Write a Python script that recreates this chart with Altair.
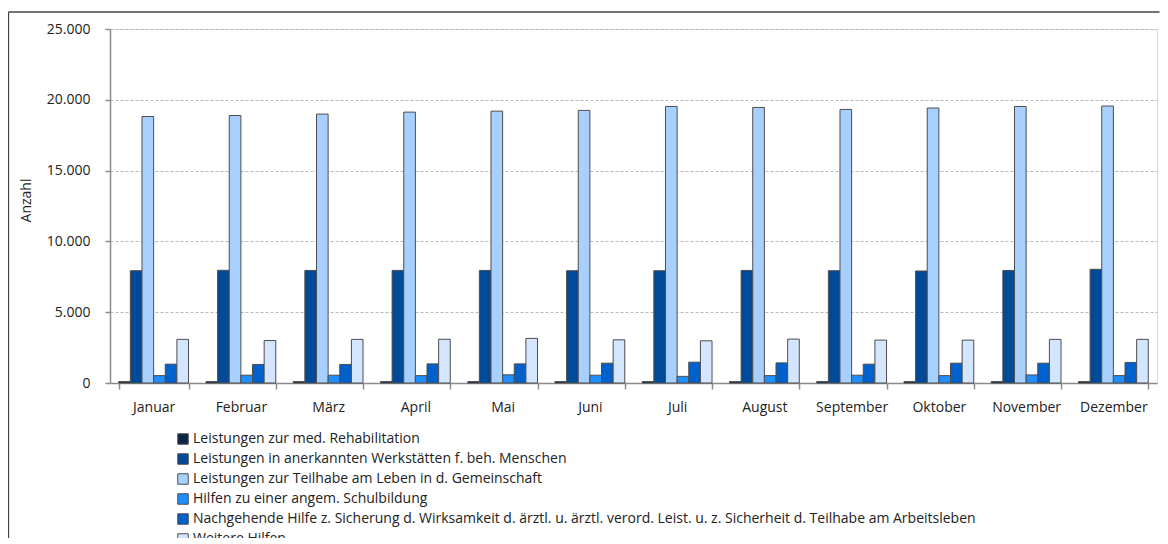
import altair as alt
import pandas as pd

months = ["Januar", "Februar", "März", "April", "Mai", "Juni", "Juli",
          "August", "September", "Oktober", "November", "Dezember"]

series = [
    "Leistungen zur med. Rehabilitation",
    "Leistungen in anerkannten Werkstätten f. beh. Menschen",
    "Leistungen zur Teilhabe am Leben in d. Gemeinschaft",
    "Hilfen zu einer angem. Schulbildung",
    "Nachgehende Hilfe z. Sicherung  d. Wirksamkeit d. ärztl. u. ärztl. verord. Leist. u. z. Sicherheit d. Teilhabe am Arbeitsleben",
    "Weitere Hilfen",
]

colors = ["#0b2447", "#004a98", "#a8d0ff", "#1f8fff", "#0060cc", "#d4e6ff"]

reha = [100, 100, 100, 100, 100, 100, 100, 100, 100, 100, 100, 100]
werkstaetten = [7930, 7960, 7950, 7950, 7950, 7930, 7930, 7950, 7930, 7910, 7950, 8030]
teilhabe = [18820, 18890, 18990, 19130, 19200, 19250, 19530, 19460, 19320, 19420, 19530, 19560]
schulbildung = [520, 550, 550, 520, 580, 550, 470, 520, 550, 520, 570, 520]
nachgehende = [1330, 1310, 1310, 1350, 1350, 1400, 1470, 1420, 1330, 1400, 1400, 1450]
weitere = [3080, 3000, 3080, 3090, 3150, 3050, 2980, 3100, 3030, 3030, 3080, 3080]

values = [reha, werkstaetten, teilhabe, schulbildung, nachgehende, weitere]

rows = []
for s, vals in zip(series, values):
    for m, v in zip(months, vals):
        rows.append({"Monat": m, "Reihe": s, "Anzahl": v})
df = pd.DataFrame(rows)

FONT = "Open Sans"

bars = alt.Chart(df).mark_bar(stroke="#4d4d4d", strokeWidth=1).encode(
    x=alt.X("Monat:N", sort=months,
            scale=alt.Scale(paddingInner=0.2, paddingOuter=0.1),
            axis=alt.Axis(title=None, labelAngle=0, tickBand="extent",
                          domainColor="#8c8c8c", domainWidth=1.5,
                          tickColor="#8c8c8c", tickWidth=1.5, tickSize=6,
                          labelPadding=11, labelFontSize=14, labelFont=FONT,
                          labelColor="#222222", grid=False)),
    xOffset=alt.XOffset("Reihe:N", sort=series,
                        scale=alt.Scale(paddingInner=0, paddingOuter=0)),
    y=alt.Y("Anzahl:Q",
            scale=alt.Scale(domain=[0, 25000], nice=False),
            axis=alt.Axis(title="Anzahl", values=[0, 5000, 10000, 15000, 20000, 25000],
                          labelExpr="replace(format(datum.value, ','), ',', '.')",
                          domainColor="#8c8c8c", domainWidth=1.5,
                          tickColor="#8c8c8c", tickWidth=1.5, tickSize=5,
                          labelPadding=15, labelFontSize=14, labelFont=FONT,
                          labelColor="#222222",
                          grid=True, gridColor="#b8b8b8", gridDash=[3, 2], gridWidth=1,
                          titleFont=FONT, titleFontSize=14, titleFontWeight="normal",
                          titleColor="#222222", titleAngle=-90,
                          titleX=-84, titleY=171, titleAlign="center",
                          titleBaseline="middle")),
    color=alt.Color("Reihe:N", sort=series,
                    scale=alt.Scale(domain=series, range=colors),
                    legend=alt.Legend(title=None, orient="none", legendX=66, legendY=403,
                                      direction="vertical", symbolType="square",
                                      symbolSize=110, symbolStrokeColor="#4d4d4d",
                                      symbolStrokeWidth=1, labelFont=FONT,
                                      labelFontSize=14, labelColor="#222222",
                                      rowPadding=4, padding=0, labelOffset=3,
                                      labelLimit=1000)),
)

frame_df = pd.DataFrame({"a": [0]})
frame_top = alt.Chart(frame_df).mark_rule(color="#444444", strokeWidth=1.3).encode(
    x=alt.value(-101.5), x2=alt.value(1049.5), y=alt.value(-17),
)
frame_left = alt.Chart(frame_df).mark_rule(color="#444444", strokeWidth=1.3).encode(
    x=alt.value(-101.5), y=alt.value(-17), y2=alt.value(800),
)

chart = alt.layer(frame_top, frame_left, bars).properties(
    width=1047, height=354,
    autosize=alt.AutoSizeParams(type="none"),
    padding={"left": 102, "top": 21, "right": 3, "bottom": 155},
).configure_view(stroke=None).configure(background="white")

chart.save("out.html", embed_options={"renderer": "svg", "actions": False})
